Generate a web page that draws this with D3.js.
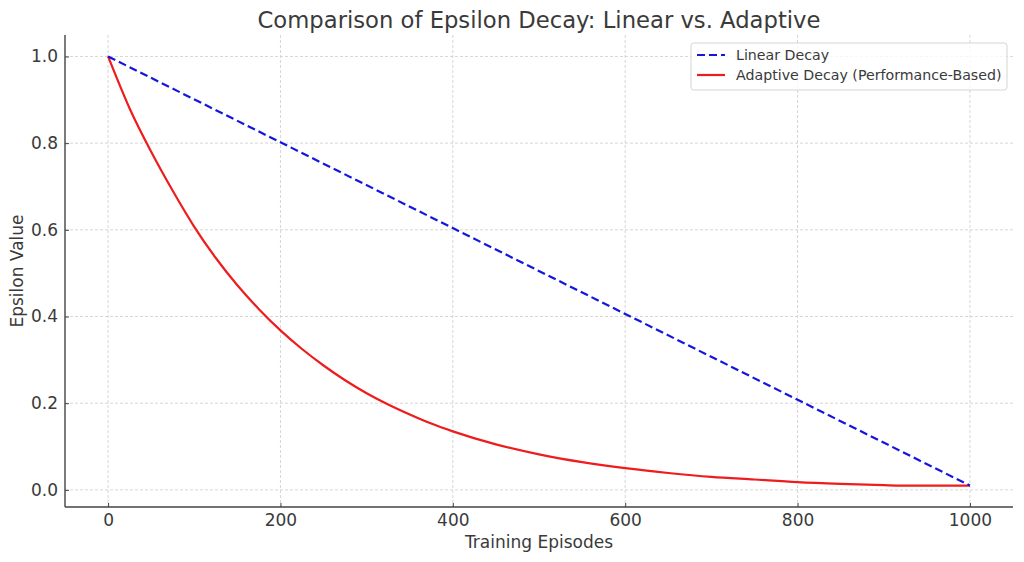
<!DOCTYPE html>
<html><head><meta charset="utf-8">
<script src="https://cdn.jsdelivr.net/npm/d3@7"></script>
<style>body{margin:0;background:#fff}svg{display:block}text{font-family:"DejaVu Sans",sans-serif;fill:#3a3a3a}</style>
</head><body><svg id="c" width="1024" height="562"></svg>
<script>
const xTicks=[0,200,400,600,800,1000];
const yTicks=[0.0,0.2,0.4,0.6,0.8,1.0];
const linearEpisodes=[0,1000];
const linearValues=[1.0,0.01];
const adaptiveEpisodes=[0,25,50,75,100,125,150,175,200,225,250,275,300,325,350,375,400,450,500,550,600,650,700,750,800,850,900,920,1000];
const adaptiveValues=[1.0,0.88,0.78,0.69,0.607,0.535,0.472,0.417,0.368,0.325,0.287,0.253,0.223,0.197,0.174,0.153,0.135,0.105,0.082,0.064,0.05,0.039,0.030,0.024,0.018,0.014,0.011,0.01,0.01];
const seriesNames=["Linear Decay","Adaptive Decay (Performance-Based)"];

const svg=d3.select("#c");
const L=65,R=1013,T=35,B=507;
const x=d3.scaleLinear().domain([-50,1050]).range([L,R]);
const y=d3.scaleLinear().domain([-0.0395,1.0495]).range([B,T]);

// grid
const g=svg.append("g");
g.selectAll(".vg").data(xTicks).enter().append("line")
 .attr("x1",d=>x(d)).attr("x2",d=>x(d)).attr("y1",T).attr("y2",B)
 .attr("stroke","#cccccc").attr("stroke-width",0.8).attr("stroke-dasharray","3,2");
g.selectAll(".hg").data(yTicks).enter().append("line")
 .attr("y1",d=>y(d)).attr("y2",d=>y(d)).attr("x1",L).attr("x2",R)
 .attr("stroke","#cccccc").attr("stroke-width",0.8).attr("stroke-dasharray","3,2");

// lines
const lin=linearEpisodes.map((e,i)=>[e,linearValues[i]]);
const ada=adaptiveEpisodes.map((e,i)=>[e,adaptiveValues[i]]);
svg.append("path").datum(ada).attr("fill","none").attr("stroke","#ee1c1c").attr("stroke-width",2.2)
 .attr("d",d3.line().x(d=>x(d[0])).y(d=>y(d[1])).curve(d3.curveMonotoneX));
svg.append("path").datum(lin).attr("fill","none").attr("stroke","#1515e0").attr("stroke-width",2.2)
 .attr("stroke-dasharray","8,4")
 .attr("d",d3.line().x(d=>x(d[0])).y(d=>y(d[1])));

// axes
const xa=svg.append("g").attr("transform",`translate(0,${B})`)
 .call(d3.axisBottom(x).tickValues(xTicks).tickSize(-4).tickPadding(7).tickFormat(d3.format("d")));
const ya=svg.append("g").attr("transform",`translate(${L},0)`)
 .call(d3.axisLeft(y).tickValues(yTicks).tickSize(-4).tickPadding(7).tickFormat(d3.format(".1f")));
[xa,ya].forEach(a=>{
 a.select(".domain").attr("stroke","#444").attr("stroke-width",1.4);
 a.selectAll(".tick line").attr("stroke","#444");
 a.selectAll("text").attr("font-size",17).attr("fill","#3a3a3a").attr("font-family","DejaVu Sans");
});
xa.select(".domain").attr("d",`M${L},0H${R}`);
ya.select(".domain").attr("d",`M0,${B}V${T}`);

svg.append("text").attr("x",539).attr("y",28).attr("text-anchor","middle").attr("font-size",22.7).text("Comparison of Epsilon Decay: Linear vs. Adaptive");
svg.append("text").attr("x",539).attr("y",548).attr("text-anchor","middle").attr("font-size",17).text("Training Episodes");
svg.append("text").attr("transform","translate(23,271) rotate(-90)").attr("text-anchor","middle").attr("font-size",17).text("Epsilon Value");

// legend
const lg=svg.append("g");
lg.append("rect").attr("x",691).attr("y",43).attr("width",316).attr("height",47).attr("rx",3)
 .attr("fill","#fff").attr("fill-opacity",0.8).attr("stroke","#d5d5d5");
const colors=["#1515e0","#ee1c1c"],dashes=["8,4",null];
seriesNames.forEach((n,i)=>{
 const yy=55+i*20;
 lg.append("line").attr("x1",697).attr("x2",725).attr("y1",yy).attr("y2",yy)
  .attr("stroke",colors[i]).attr("stroke-width",2.2).attr("stroke-dasharray",dashes[i]);
 lg.append("text").attr("x",736).attr("y",yy+5).attr("font-size",14.2).text(n);
});
</script></body></html>
